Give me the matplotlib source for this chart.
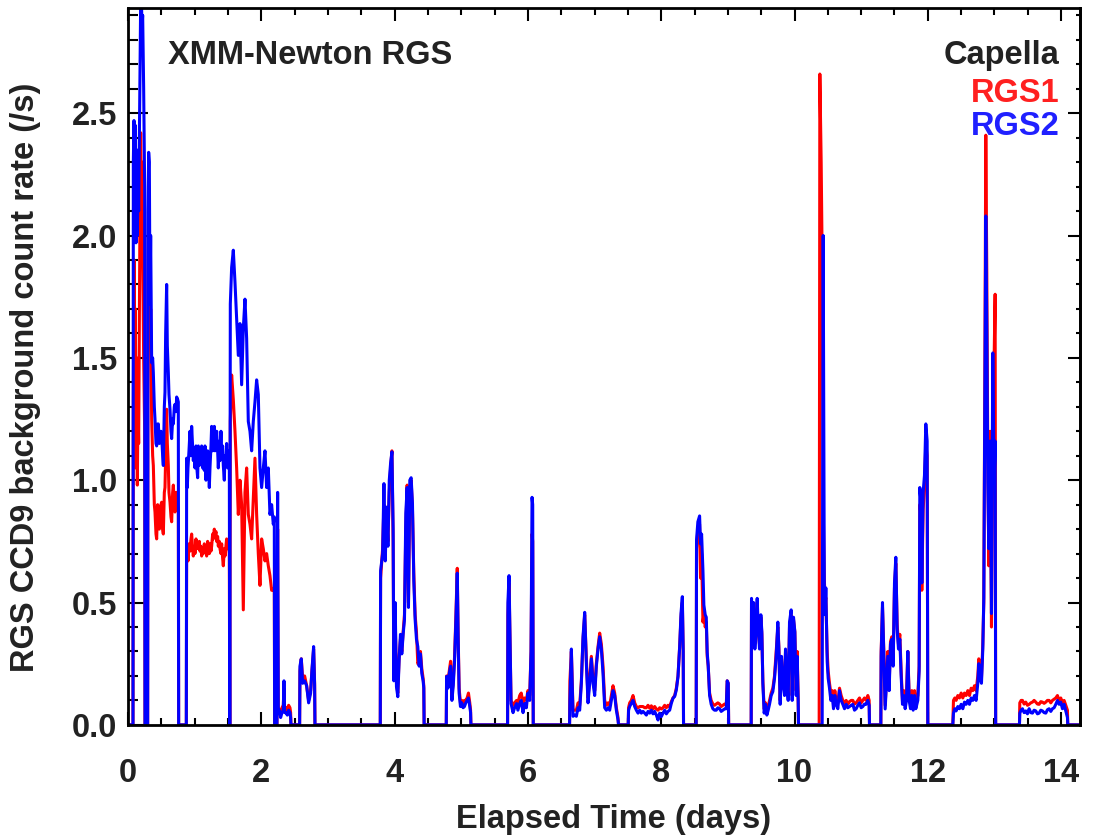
import matplotlib
matplotlib.use("Agg")
import matplotlib.pyplot as plt
from matplotlib.ticker import MultipleLocator

# elapsed time (days); zeros mark gaps between good-time intervals
t_days = [
    0.0, 0.075,
    0.08, 0.09, 0.10, 0.11, 0.12, 0.13, 0.14, 0.15, 0.16, 0.17, 0.18, 0.19, 0.20, 0.21, 0.22, 0.235, 0.25,
    0.255, 0.295,
    0.30, 0.31, 0.32, 0.33, 0.34, 0.355, 0.37, 0.38, 0.395, 0.405, 0.42, 0.43, 0.445, 0.455, 0.47, 0.48, 0.495, 0.505, 0.52,
    0.53, 0.545, 0.555, 0.565, 0.58, 0.59, 0.605, 0.615, 0.63, 0.645, 0.655, 0.67, 0.68, 0.695, 0.705, 0.72, 0.73, 0.745, 0.755,
    0.76, 0.875,
    0.88, 0.89, 0.90, 0.915, 0.93, 0.945, 0.955, 0.97, 0.98, 0.995, 1.005, 1.02, 1.03, 1.045, 1.055, 1.07, 1.08, 1.095,
    1.105, 1.12, 1.13, 1.145, 1.155, 1.17, 1.18, 1.195, 1.205, 1.22, 1.23, 1.245, 1.255, 1.27, 1.28, 1.295, 1.305, 1.32,
    1.33, 1.345, 1.355, 1.37, 1.38, 1.395, 1.405, 1.42, 1.43, 1.445, 1.455, 1.47, 1.48, 1.495, 1.505, 1.52,
    1.527,
    1.535, 1.555, 1.58, 1.605, 1.63, 1.655, 1.68, 1.705, 1.73, 1.755, 1.78, 1.805, 1.83, 1.855, 1.88, 1.905, 1.93, 1.955,
    1.98, 2.005, 2.03, 2.055, 2.08, 2.105, 2.13, 2.155, 2.18, 2.195,
    2.20, 2.235,
    2.245, 2.255, 2.27, 2.29, 2.31, 2.33, 2.34, 2.35, 2.37, 2.39, 2.41, 2.43, 2.44,
    2.445, 2.575,
    2.58, 2.60, 2.62, 2.65, 2.68, 2.71, 2.74, 2.76, 2.785, 2.80,
    2.805, 3.785,
    3.79, 3.82, 3.84, 3.86, 3.88, 3.90, 3.92, 3.94, 3.96, 3.978, 3.988, 4.008, 4.028, 4.048, 4.068, 4.088, 4.108, 4.128,
    4.148, 4.168, 4.188, 4.208, 4.228, 4.248, 4.268, 4.288, 4.308, 4.328, 4.348, 4.368, 4.388, 4.408, 4.428, 4.438,
    4.443, 4.775,
    4.78, 4.80, 4.82, 4.84, 4.86, 4.88, 4.90, 4.92, 4.94, 4.953, 4.968, 4.988, 5.008, 5.028, 5.048, 5.068, 5.088, 5.108, 5.128, 5.14,
    5.145, 5.695,
    5.70, 5.717, 5.747, 5.777, 5.80, 5.83, 5.85, 5.877, 5.90, 5.927, 5.95, 5.977, 6.0, 6.027, 6.047, 6.062, 6.072,
    6.08, 6.625,
    6.63, 6.652, 6.677, 6.702, 6.727, 6.752, 6.777, 6.802, 6.827, 6.852, 6.877, 6.902, 6.927, 6.952, 6.977, 7.002, 7.027, 7.052,
    7.077, 7.102, 7.127, 7.152, 7.177, 7.202, 7.227, 7.252, 7.277, 7.302, 7.327, 7.352,
    7.36, 7.505,
    7.51, 7.527, 7.552, 7.577, 7.602, 7.627, 7.652, 7.677, 7.702, 7.727, 7.752, 7.777, 7.802, 7.827, 7.852, 7.877, 7.902, 7.927,
    7.952, 7.977, 8.002, 8.027, 8.052, 8.077, 8.102, 8.127, 8.152, 8.177, 8.202, 8.227, 8.252, 8.277, 8.297, 8.317, 8.33,
    8.335, 8.525,
    8.53, 8.55, 8.576, 8.59, 8.606, 8.626, 8.64, 8.66, 8.676, 8.69, 8.705, 8.726, 8.75, 8.775, 8.8, 8.826, 8.85, 8.876,
    8.9, 8.926, 8.95, 8.976, 8.99, 9.006,
    9.012, 9.35,
    9.355, 9.37, 9.385, 9.405, 9.425, 9.44, 9.455, 9.475, 9.495, 9.51, 9.525, 9.545, 9.565, 9.585, 9.605, 9.625, 9.65, 9.675,
    9.7, 9.725, 9.75, 9.765, 9.785, 9.805, 9.825, 9.85, 9.865, 9.885, 9.905, 9.925, 9.95, 9.965, 9.985, 10.005, 10.025, 10.04, 10.055,
    10.06, 10.37,
    10.38, 10.40, 10.415, 10.43, 10.447, 10.46, 10.47, 10.49, 10.505, 10.525, 10.545, 10.565, 10.585, 10.605, 10.625, 10.65,
    10.675, 10.7, 10.725, 10.75, 10.775, 10.8, 10.825, 10.85, 10.875, 10.9, 10.925, 10.95, 10.975, 11.0, 11.025, 11.05, 11.075, 11.1, 11.12,
    11.125, 11.295,
    11.30, 11.32, 11.34, 11.36, 11.38, 11.40, 11.42, 11.44, 11.46, 11.48, 11.50, 11.52, 11.54, 11.56, 11.58, 11.60, 11.62, 11.64,
    11.66, 11.68, 11.70, 11.72, 11.74, 11.76, 11.78, 11.80, 11.82, 11.85, 11.87, 11.88, 11.90, 11.91, 11.93, 11.95, 11.97, 11.99,
    12.0, 12.375,
    12.385, 12.405, 12.425, 12.45, 12.475, 12.5, 12.525, 12.55, 12.575, 12.6, 12.625, 12.65, 12.675, 12.7, 12.725, 12.75,
    12.765, 12.785, 12.805, 12.825, 12.84, 12.855, 12.87, 12.885, 12.9, 12.915, 12.935, 12.955, 12.975, 12.995, 13.01,
    13.018, 13.375,
    13.38, 13.40, 13.42, 13.445, 13.47, 13.495, 13.52, 13.545, 13.57, 13.595, 13.62, 13.645, 13.67, 13.695, 13.72, 13.745,
    13.77, 13.795, 13.82, 13.845, 13.87, 13.895, 13.92, 13.945, 13.97, 13.995, 14.02, 14.045, 14.07, 14.095,
    14.1, 14.3,
]

# RGS1 CCD9 background rate (counts/s)
rgs1_rate = [
    0, 0,
    1.3, 1.9, 1.2, 1.7, 1.05, 1.5, 0.98, 1.3, 1.15, 1.6, 2.1, 2.42, 2.2, 2.3, 1.9, 1.5, 1.2,
    0, 0,
    1.8, 2.2, 1.9, 1.6, 1.7, 1.25, 1.1, 1.06, 0.9, 0.87, 0.78, 0.76, 0.9, 0.87, 0.8, 0.82, 0.9, 0.91, 0.8,
    0.78, 0.95, 0.97, 1.1, 1.29, 1.15, 1.06, 0.95, 0.91, 0.85, 0.83, 0.95, 0.98, 0.9, 0.87, 0.95, 0.95, 0.9, 0.88,
    0, 0,
    0.68, 0.72, 0.67, 0.74, 0.71, 0.76, 0.78, 0.72, 0.69, 0.73, 0.70, 0.76, 0.72, 0.74, 0.72, 0.75, 0.71, 0.73,
    0.69, 0.72, 0.70, 0.74, 0.71, 0.73, 0.69, 0.75, 0.72, 0.70, 0.74, 0.71, 0.73, 0.78, 0.76, 0.80, 0.77, 0.79,
    0.75, 0.77, 0.73, 0.75, 0.72, 0.70, 0.74, 0.68, 0.65, 0.72, 0.69, 0.73, 0.76, 0.72, 0.74, 0.70,
    0,
    1.24, 1.43, 1.33, 1.2, 1.05, 0.86, 1.0, 0.9, 0.47, 0.95, 1.05, 0.86, 0.82, 0.76, 0.93, 1.09, 0.86, 0.7,
    0.57, 0.76, 0.72, 0.67, 0.7, 0.65, 0.61, 0.55, 0.55, 0.56,
    0, 0,
    0.8, 0.07, 0.06, 0.05, 0.07, 0.08, 0.15, 0.07, 0.07, 0.06, 0.08, 0.07, 0.05,
    0, 0,
    0.22, 0.27, 0.19, 0.2, 0.16, 0.1, 0.14, 0.22, 0.31, 0.17,
    0, 0,
    0.6, 0.72, 0.9, 0.7, 0.85, 0.75, 0.95, 1.05, 1.12, 0.75, 0.2, 0.45, 0.17, 0.13, 0.28, 0.35, 0.3, 0.38,
    0.45, 0.8, 0.98, 0.5, 0.95, 1.0, 0.88, 0.62, 0.45, 0.38, 0.25, 0.26, 0.3, 0.23, 0.19, 0.16,
    0, 0,
    0.2, 0.17, 0.22, 0.26, 0.12, 0.18, 0.28, 0.45, 0.64, 0.38, 0.15, 0.09, 0.1, 0.09, 0.1, 0.1, 0.11, 0.13, 0.09, 0.06,
    0, 0,
    0.45, 0.58, 0.1, 0.08, 0.09, 0.1, 0.09, 0.12, 0.13, 0.09, 0.11, 0.1, 0.14, 0.12, 0.3, 0.78, 0.75,
    0, 0,
    0.18, 0.3, 0.06, 0.06, 0.06, 0.09, 0.08, 0.18, 0.35, 0.45, 0.27, 0.11, 0.19, 0.28, 0.19, 0.14, 0.25, 0.32,
    0.375, 0.33, 0.24, 0.1, 0.08, 0.09, 0.08, 0.12, 0.16, 0.13, 0.07, 0.03,
    0, 0,
    0.07, 0.09, 0.1, 0.12, 0.09, 0.075, 0.07, 0.075, 0.075, 0.075, 0.07, 0.07, 0.08, 0.068, 0.078, 0.065, 0.075, 0.065,
    0.06, 0.07, 0.065, 0.07, 0.08, 0.07, 0.08, 0.075, 0.095, 0.11, 0.12, 0.15, 0.2, 0.32, 0.44, 0.5, 0.3,
    0, 0,
    0.72, 0.8, 0.82, 0.6, 0.7, 0.42, 0.45, 0.4, 0.42, 0.28, 0.24, 0.13, 0.1, 0.085, 0.08, 0.085, 0.09, 0.085,
    0.075, 0.08, 0.085, 0.08, 0.18, 0.17,
    0, 0,
    0.5, 0.35, 0.48, 0.33, 0.42, 0.5, 0.38, 0.33, 0.44, 0.37, 0.18, 0.065, 0.09, 0.06, 0.075, 0.1, 0.13, 0.15,
    0.2, 0.3, 0.4, 0.32, 0.1, 0.27, 0.19, 0.14, 0.3, 0.18, 0.12, 0.4, 0.45, 0.12, 0.43, 0.38, 0.14, 0.3, 0.1,
    0, 0,
    2.66, 2.3, 1.9, 0.9, 0.6, 0.5, 0.52, 0.3, 0.22, 0.17, 0.13, 0.14, 0.09, 0.14, 0.1, 0.09,
    0.15, 0.12, 0.1, 0.09, 0.1, 0.085, 0.095, 0.1, 0.1, 0.085, 0.09, 0.1, 0.11, 0.09, 0.1, 0.11, 0.1, 0.12, 0.1,
    0, 0,
    0.3, 0.48, 0.3, 0.08, 0.19, 0.3, 0.16, 0.34, 0.36, 0.26, 0.56, 0.66, 0.41, 0.33, 0.37, 0.22, 0.1, 0.14,
    0.09, 0.12, 0.3, 0.12, 0.09, 0.14, 0.08, 0.14, 0.09, 0.12, 0.24, 0.9, 0.85, 0.55, 0.88, 0.98, 1.15, 1.1,
    0, 0,
    0.1, 0.11, 0.1, 0.12, 0.11, 0.13, 0.11, 0.13, 0.12, 0.14, 0.12, 0.15, 0.14, 0.16, 0.14, 0.2,
    0.27, 0.21, 0.19, 0.33, 0.5, 1.4, 2.41, 1.85, 1.1, 0.65, 1.2, 0.4, 1.3, 1.5, 1.76,
    0, 0,
    0.09, 0.1, 0.1, 0.085, 0.093, 0.08, 0.084, 0.09, 0.093, 0.1, 0.093, 0.085, 0.084, 0.095, 0.093, 0.088,
    0.093, 0.1, 0.1, 0.09, 0.1, 0.105, 0.11, 0.12, 0.1, 0.11, 0.09, 0.1, 0.08, 0.06,
    0, 0,
]

# RGS2 CCD9 background rate (counts/s)
rgs2_rate = [
    0, 0,
    2.3, 2.47, 2.0, 2.45, 1.97, 2.35, 2.0, 2.2, 2.1, 2.4, 2.75, 2.95, 2.98, 2.85, 2.9, 2.6, 2.2,
    0, 0,
    2.1, 2.34, 2.3, 1.72, 2.0, 1.48, 1.5, 1.44, 1.3, 1.25, 1.15, 1.14, 1.23, 1.23, 1.15, 1.17, 1.2, 1.18, 1.1,
    1.06, 1.3, 1.36, 1.6, 1.8, 1.55, 1.44, 1.35, 1.29, 1.2, 1.17, 1.25, 1.23, 1.3, 1.31, 1.28, 1.34, 1.33, 1.32,
    0, 0,
    1.09, 0.97, 1.05, 1.12, 1.2, 1.1, 1.22, 1.14, 1.08, 1.12, 1.05, 1.14, 1.06, 1.01, 1.14, 1.06, 1.12, 1.07,
    1.14, 1.05, 1.1, 1.04, 1.14, 1.0, 1.06, 1.12, 1.09, 0.97, 1.05, 1.14, 1.22, 1.12, 1.18, 1.22, 1.12, 1.15,
    1.2, 1.12, 1.05, 1.16, 1.08, 1.2, 1.1, 1.14, 1.06, 1.0, 1.1, 1.07, 1.15, 1.05, 1.1, 1.12,
    0,
    1.72, 1.87, 1.94, 1.81, 1.66, 1.51, 1.64, 1.39, 1.62, 1.74, 1.58, 1.24, 1.2, 1.12, 1.24, 1.32, 1.41, 1.35,
    1.05, 0.97, 1.05, 1.12, 0.97, 1.05, 0.86, 0.9, 0.82, 0.85,
    0, 0,
    0.95, 0.05, 0.06, 0.03, 0.05, 0.06, 0.18, 0.05, 0.05, 0.04, 0.06, 0.05, 0.03,
    0, 0,
    0.24, 0.27, 0.17, 0.18, 0.16, 0.09, 0.13, 0.225, 0.32, 0.16,
    0, 0,
    0.63, 0.70, 0.986, 0.67, 0.89, 0.73, 1.0, 1.07, 1.116, 0.8, 0.18, 0.5, 0.156, 0.115, 0.265, 0.37, 0.29, 0.37,
    0.43, 0.865, 0.97, 0.48, 1.0, 1.01, 0.905, 0.59, 0.43, 0.35, 0.32, 0.24, 0.29, 0.21, 0.18, 0.15,
    0, 0,
    0.198, 0.15, 0.21, 0.24, 0.1, 0.16, 0.265, 0.43, 0.62, 0.36, 0.13, 0.075, 0.09, 0.07, 0.075, 0.09, 0.1, 0.11, 0.075, 0.05,
    0, 0,
    0.5, 0.61, 0.087, 0.05, 0.07, 0.087, 0.06, 0.087, 0.1, 0.05, 0.087, 0.07, 0.13, 0.1, 0.3, 0.93, 0.9,
    0, 0,
    0.1, 0.31, 0.035, 0.04, 0.035, 0.07, 0.06, 0.17, 0.36, 0.46, 0.25, 0.09, 0.17, 0.27, 0.17, 0.12, 0.24, 0.31,
    0.36, 0.31, 0.21, 0.07, 0.06, 0.07, 0.06, 0.1, 0.14, 0.12, 0.06, 0.02,
    0, 0,
    0.06, 0.075, 0.088, 0.1, 0.075, 0.06, 0.048, 0.06, 0.048, 0.055, 0.048, 0.04, 0.055, 0.048, 0.06, 0.045, 0.055, 0.04,
    0.02, 0.048, 0.034, 0.048, 0.06, 0.045, 0.055, 0.06, 0.088, 0.109, 0.116, 0.143, 0.197, 0.32, 0.456, 0.524, 0.3,
    0, 0,
    0.756, 0.83, 0.854, 0.74, 0.78, 0.632, 0.49, 0.45, 0.44, 0.296, 0.243, 0.12, 0.084, 0.066, 0.06, 0.06, 0.07, 0.066,
    0.055, 0.06, 0.065, 0.066, 0.18, 0.17,
    0, 0,
    0.517, 0.33, 0.5, 0.31, 0.40, 0.517, 0.40, 0.31, 0.45, 0.38, 0.17, 0.048, 0.084, 0.04, 0.06, 0.084, 0.12, 0.136,
    0.19, 0.28, 0.42, 0.31, 0.084, 0.28, 0.17, 0.12, 0.31, 0.17, 0.1, 0.42, 0.47, 0.1, 0.44, 0.38, 0.12, 0.28, 0.1,
    0, 0,
    0, 0, 0, 2.0, 0.58, 0.45, 0.56, 0.26, 0.19, 0.15, 0.1, 0.12, 0.066, 0.12, 0.084, 0.066,
    0.14, 0.1, 0.084, 0.066, 0.084, 0.07, 0.075, 0.08, 0.084, 0.06, 0.066, 0.08, 0.09, 0.07, 0.075, 0.085, 0.084, 0.1, 0.08,
    0, 0,
    0.28, 0.5, 0.28, 0.065, 0.17, 0.28, 0.14, 0.33, 0.35, 0.24, 0.58, 0.685, 0.39, 0.31, 0.35, 0.2, 0.084, 0.12,
    0.066, 0.1, 0.3, 0.1, 0.066, 0.12, 0.06, 0.12, 0.066, 0.1, 0.22, 0.97, 0.9, 0.58, 0.95, 1.02, 1.23, 1.16,
    0, 0,
    0.048, 0.066, 0.057, 0.075, 0.066, 0.084, 0.066, 0.093, 0.084, 0.1, 0.084, 0.11, 0.1, 0.12, 0.1, 0.17,
    0.25, 0.19, 0.17, 0.31, 0.52, 1.32, 2.08, 1.62, 0.99, 0.72, 1.16, 0.455, 1.52, 0.99, 1.16,
    0, 0,
    0.048, 0.06, 0.066, 0.05, 0.057, 0.045, 0.066, 0.05, 0.048, 0.06, 0.057, 0.045, 0.048, 0.06, 0.057, 0.05,
    0.048, 0.062, 0.066, 0.055, 0.066, 0.07, 0.084, 0.1, 0.084, 0.093, 0.066, 0.084, 0.057, 0.03,
    0, 0,
]

assert len(t_days) == len(rgs1_rate) == len(rgs2_rate), (len(t_days), len(rgs1_rate), len(rgs2_rate))

plt.rcParams['font.family'] = ['Liberation Sans', 'DejaVu Sans']
plt.rcParams['font.weight'] = 'bold'
plt.rcParams['axes.labelweight'] = 'bold'
text_col = '#222222'
fs = 23.5

fig = plt.figure(figsize=(10.94, 8.38), dpi=100)
ax = fig.add_axes([0.117, 0.135, 0.870, 0.8555])

ax.plot(t_days, rgs1_rate, color='#ff0000', lw=2.2, zorder=2)
ax.plot(t_days, rgs2_rate, color='#0000ff', lw=2.2, zorder=2.1)

ax.set_xlim(0, 14.28)
ax.set_ylim(0, 2.93)
ax.xaxis.set_major_locator(MultipleLocator(2))
ax.xaxis.set_minor_locator(MultipleLocator(0.5))
ax.yaxis.set_major_locator(MultipleLocator(0.5))
ax.yaxis.set_minor_locator(MultipleLocator(0.1))
ax.yaxis.set_major_formatter(lambda v, p: f'{v:.1f}')

for s in ax.spines.values():
    s.set_linewidth(2.0)
    s.set_zorder(3)

ax.tick_params(axis='x', which='both', direction='in', top=True, bottom=True,
               width=1.5, labelsize=fs, labelcolor=text_col, pad=24)
ax.tick_params(axis='x', which='major', length=9.5)
ax.tick_params(axis='x', which='minor', length=5)
ax.tick_params(axis='y', which='both', direction='in', left=True, right=False,
               width=1.5, labelsize=fs, labelcolor=text_col, pad=8)
ax.tick_params(axis='y', which='major', length=14.5)
ax.tick_params(axis='y', which='minor', length=7.2)

# right-hand axis has shorter ticks
rax = ax.secondary_yaxis('right')
rax.yaxis.set_major_locator(MultipleLocator(0.5))
rax.yaxis.set_minor_locator(MultipleLocator(0.1))
rax.tick_params(which='both', direction='in', width=1.5, labelright=False)
rax.tick_params(which='major', length=8.6)
rax.tick_params(which='minor', length=3)
rax.spines['right'].set_linewidth(2.0)

ax.set_xlabel('Elapsed Time (days)', fontsize=fs, color=text_col)
ax.set_ylabel('RGS CCD9 background count rate (/s)', fontsize=fs, color=text_col)
ax.xaxis.set_label_coords(0.51, -0.1325)
ax.xaxis.label.set_va('center')
ax.yaxis.set_label_coords(-0.108, 0.485)
ax.yaxis.label.set_va('center')

ax.text(0.042, 0.934, 'XMM-Newton RGS', transform=ax.transAxes, fontsize=fs,
        color=text_col, ha='left', va='center')
ax.text(0.979, 0.934, 'Capella', transform=ax.transAxes, fontsize=fs,
        color=text_col, ha='right', va='center')
ax.text(0.979, 0.881, 'RGS1', transform=ax.transAxes, fontsize=fs,
        color='#ff2020', ha='right', va='center')
ax.text(0.979, 0.834, 'RGS2', transform=ax.transAxes, fontsize=fs,
        color='#2020ff', ha='right', va='center')

fig.savefig('out.png', dpi=100)
